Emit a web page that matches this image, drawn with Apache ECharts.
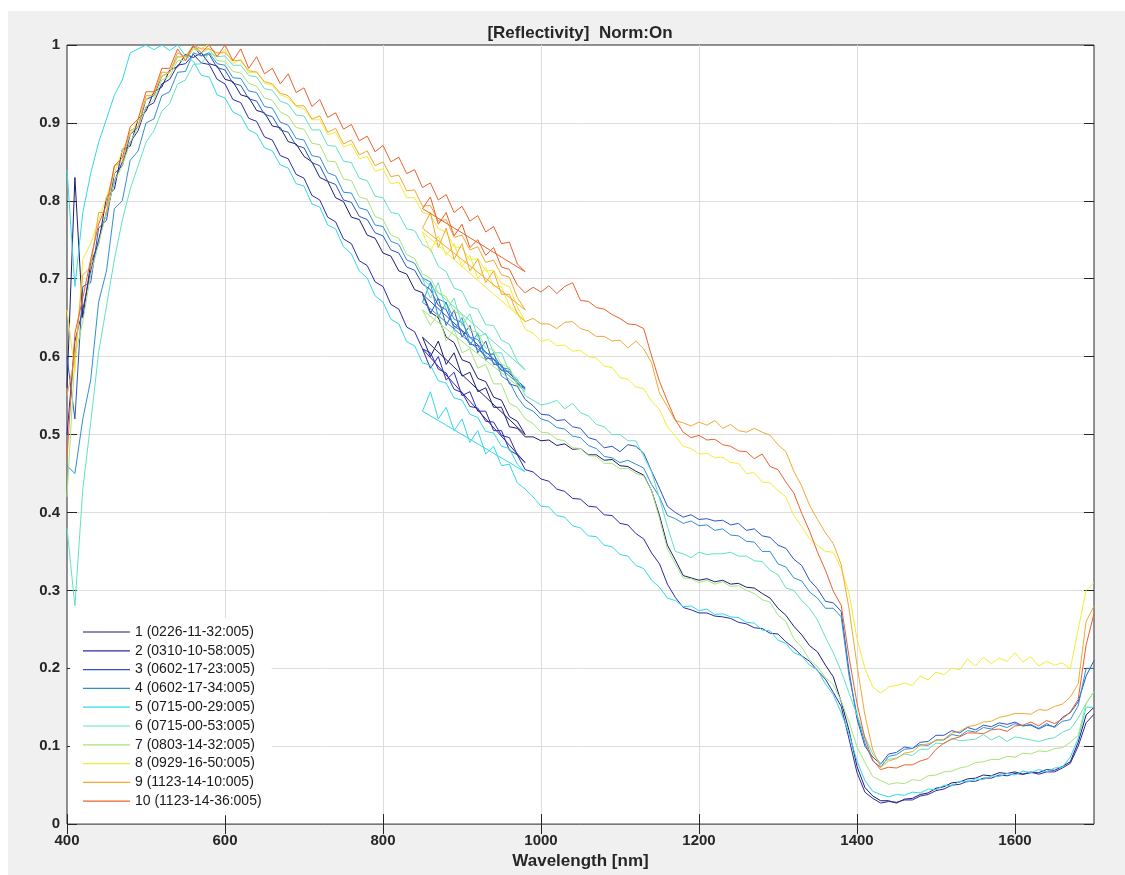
<!DOCTYPE html>
<html>
<head>
<meta charset="utf-8">
<title>[Reflectivity] Norm:On</title>
<script src="https://cdn.jsdelivr.net/npm/echarts@6/dist/echarts.min.js"></script>
<style>
html, body { margin: 0; padding: 0; background: #ffffff; }
#chart { position: absolute; left: 8px; top: 11px; width: 1117px; height: 864px; }
</style>
</head>
<body>
<div id="chart"></div>
<script>
// wavelength grids [nm] of the two spectrometers
var visWave = [400, 410, 420, 430, 440, 450, 460, 470, 480, 490,
    500, 510, 520, 530, 540, 550, 560, 570, 580, 590,
    600, 610, 620, 630, 640, 650, 660, 670, 680, 690,
    700, 710, 720, 730, 740, 750, 760, 770, 780, 790,
    800, 810, 820, 830, 840, 850, 860, 870, 880, 890,
    900, 910, 920, 930, 940, 950, 960, 970, 980];
var nirWave = [850, 860, 870, 880, 890, 900, 910, 920, 930, 940, 950, 960, 970, 980,
    990, 1000, 1010, 1020, 1030, 1040, 1050, 1060, 1070, 1080, 1090, 1100,
    1110, 1120, 1130, 1140, 1150, 1160, 1170, 1180, 1190, 1200,
    1210, 1220, 1230, 1240, 1250, 1260, 1270, 1280, 1290, 1300,
    1310, 1320, 1330, 1340, 1350, 1360, 1370, 1380, 1390, 1400,
    1410, 1420, 1430, 1440, 1450, 1460, 1470, 1480, 1490, 1500,
    1510, 1520, 1530, 1540, 1550, 1560, 1570, 1580, 1590, 1600,
    1610, 1620, 1630, 1640, 1650, 1660, 1670, 1680, 1690, 1700];

var runNames = ['1 (0226-11-32:005)', '2 (0310-10-58:005)', '3 (0602-17-23:005)',
    '4 (0602-17-34:005)', '5 (0715-00-29:005)', '6 (0715-00-53:005)',
    '7 (0803-14-32:005)', '8 (0929-16-50:005)', '9 (1123-14-10:005)',
    '10 (1123-14-36:005)'];
var runColors = ['#1c1c6e', '#2a2aa8', '#2a55c4', '#2f8fd4', '#30d8e8',
    '#62e2c2', '#a6e67a', '#f2ec34', '#f0a832', '#e8622c'];

// tick marks / labels
var xTickValues = [400, 600, 800, 1000, 1200, 1400, 1600];
var yTickValues = [0, 0.1, 0.2, 0.3, 0.4, 0.5, 0.6, 0.7, 0.8, 0.9, 1];

// normalised reflectivity, visible spectrometer
var vis01 = [0.56, 0.83, 0.65, 0.72, 0.745, 0.805, 0.815, 0.866, 0.87, 0.905,
    0.915, 0.94, 0.946, 0.968, 0.972, 0.988, 0.984, 0.99, 0.976, 0.973,
    0.956, 0.953, 0.936, 0.933, 0.916, 0.913, 0.896, 0.894, 0.876, 0.873,
    0.857, 0.85, 0.83, 0.825, 0.804, 0.799, 0.779, 0.776, 0.756, 0.752,
    0.733, 0.729, 0.71, 0.706, 0.686, 0.682, 0.657, 0.65, 0.625, 0.618,
    0.596, 0.592, 0.572, 0.568, 0.548, 0.544, 0.523, 0.517, 0.5];
var vis02 = [0.5, 0.62, 0.66, 0.71, 0.75, 0.785, 0.825, 0.85, 0.875, 0.89,
    0.92, 0.926, 0.95, 0.956, 0.974, 0.976, 0.988, 0.977, 0.975, 0.956,
    0.95, 0.93, 0.926, 0.906, 0.902, 0.882, 0.878, 0.858, 0.854, 0.834,
    0.829, 0.807, 0.801, 0.779, 0.773, 0.751, 0.745, 0.723, 0.717, 0.696,
    0.69, 0.667, 0.661, 0.638, 0.632, 0.61, 0.605, 0.584, 0.579, 0.558,
    0.554, 0.536, 0.534, 0.517, 0.516, 0.499, 0.496, 0.474, 0.464];
var vis03 = [0.6, 0.52, 0.69, 0.695, 0.765, 0.775, 0.835, 0.845, 0.885, 0.895,
    0.93, 0.935, 0.96, 0.965, 0.985, 0.985, 0.998, 0.986, 0.988, 0.971,
    0.968, 0.951, 0.948, 0.931, 0.928, 0.911, 0.908, 0.891, 0.888, 0.871,
    0.868, 0.849, 0.845, 0.825, 0.821, 0.801, 0.798, 0.78, 0.776, 0.759,
    0.755, 0.737, 0.733, 0.715, 0.711, 0.693, 0.686, 0.666, 0.66, 0.639,
    0.633, 0.616, 0.614, 0.598, 0.597, 0.582, 0.581, 0.565, 0.56];
var vis04 = [0.46, 0.45, 0.52, 0.57, 0.67, 0.71, 0.79, 0.8, 0.852, 0.864,
    0.9, 0.905, 0.935, 0.94, 0.965, 0.966, 0.99, 0.986, 0.99, 0.976,
    0.974, 0.958, 0.957, 0.941, 0.939, 0.921, 0.919, 0.901, 0.897, 0.88,
    0.878, 0.858, 0.856, 0.836, 0.832, 0.811, 0.81, 0.791, 0.788, 0.769,
    0.767, 0.748, 0.744, 0.724, 0.72, 0.701, 0.696, 0.674, 0.669, 0.648,
    0.644, 0.625, 0.622, 0.604, 0.603, 0.586, 0.584, 0.565, 0.558];
var vis05 = [0.84, 0.69, 0.785, 0.835, 0.875, 0.905, 0.936, 0.955, 0.99, 0.995,
    1.0, 0.994, 1.0, 0.993, 1.0, 0.986, 0.979, 0.961, 0.959, 0.936,
    0.932, 0.914, 0.909, 0.891, 0.886, 0.868, 0.864, 0.846, 0.842, 0.822,
    0.819, 0.796, 0.792, 0.769, 0.764, 0.741, 0.732, 0.71, 0.701, 0.678,
    0.67, 0.648, 0.642, 0.619, 0.614, 0.592, 0.589, 0.569, 0.566, 0.547,
    0.544, 0.526, 0.522, 0.504, 0.502, 0.485, 0.482, 0.462, 0.452];
var vis06 = [0.38, 0.28, 0.43, 0.515, 0.605, 0.665, 0.725, 0.775, 0.815, 0.845,
    0.875, 0.89, 0.915, 0.925, 0.95, 0.955, 0.975, 0.976, 0.99, 0.985,
    0.986, 0.974, 0.974, 0.961, 0.959, 0.944, 0.942, 0.928, 0.924, 0.91,
    0.909, 0.891, 0.891, 0.871, 0.87, 0.851, 0.849, 0.829, 0.826, 0.806,
    0.804, 0.785, 0.783, 0.764, 0.762, 0.744, 0.738, 0.716, 0.709, 0.688,
    0.684, 0.664, 0.661, 0.641, 0.64, 0.621, 0.616, 0.594, 0.583];
var vis07 = [0.42, 0.6, 0.645, 0.705, 0.745, 0.785, 0.825, 0.845, 0.875, 0.895,
    0.92, 0.93, 0.955, 0.96, 0.98, 0.98, 0.995, 0.99, 0.995, 0.98,
    0.979, 0.966, 0.964, 0.951, 0.947, 0.932, 0.929, 0.914, 0.909, 0.894,
    0.892, 0.874, 0.872, 0.851, 0.85, 0.828, 0.826, 0.805, 0.802, 0.78,
    0.776, 0.756, 0.752, 0.731, 0.726, 0.706, 0.701, 0.682, 0.677, 0.658,
    0.654, 0.634, 0.631, 0.611, 0.609, 0.59, 0.586, 0.564, 0.555];
var vis08 = [0.66, 0.58, 0.725, 0.745, 0.775, 0.805, 0.835, 0.865, 0.885, 0.905,
    0.93, 0.94, 0.96, 0.965, 0.985, 0.985, 0.995, 0.996, 1.0, 0.986,
    0.994, 0.976, 0.982, 0.964, 0.966, 0.951, 0.948, 0.936, 0.932, 0.921,
    0.918, 0.904, 0.904, 0.885, 0.888, 0.869, 0.873, 0.854, 0.857, 0.838,
    0.841, 0.822, 0.824, 0.804, 0.804, 0.785, 0.782, 0.764, 0.76, 0.741,
    0.74, 0.724, 0.726, 0.71, 0.711, 0.694, 0.69, 0.664, 0.645];
var vis09 = [0.55, 0.6, 0.705, 0.715, 0.785, 0.785, 0.845, 0.85, 0.89, 0.895,
    0.935, 0.935, 0.965, 0.965, 0.99, 0.985, 1.0, 0.995, 0.995, 0.99,
    0.99, 0.98, 0.98, 0.967, 0.965, 0.953, 0.95, 0.938, 0.935, 0.922,
    0.922, 0.905, 0.909, 0.888, 0.893, 0.873, 0.878, 0.859, 0.864, 0.845,
    0.85, 0.831, 0.833, 0.813, 0.814, 0.793, 0.794, 0.774, 0.776, 0.753,
    0.756, 0.737, 0.741, 0.721, 0.724, 0.705, 0.702, 0.676, 0.66];
var vis10 = [0.47, 0.63, 0.675, 0.725, 0.77, 0.795, 0.845, 0.855, 0.895, 0.905,
    0.94, 0.94, 0.97, 0.97, 0.995, 0.98, 1.0, 0.99, 1.0, 0.985,
    1.0, 0.98, 0.995, 0.97, 0.985, 0.963, 0.97, 0.95, 0.963, 0.939,
    0.945, 0.921, 0.93, 0.907, 0.913, 0.892, 0.898, 0.877, 0.883, 0.863,
    0.871, 0.85, 0.856, 0.835, 0.84, 0.817, 0.823, 0.801, 0.808, 0.785,
    0.793, 0.774, 0.781, 0.76, 0.767, 0.745, 0.747, 0.719, 0.709];

// normalised reflectivity, NIR spectrometer
var nir01 = [0.625, 0.6, 0.62, 0.59, 0.605, 0.575, 0.58, 0.555, 0.56, 0.535, 0.535, 0.51, 0.508, 0.497,
    0.497, 0.492, 0.493, 0.486, 0.488, 0.481, 0.482, 0.474, 0.474, 0.467, 0.468, 0.46,
    0.459, 0.453, 0.448, 0.428, 0.396, 0.358, 0.339, 0.319, 0.316, 0.313,
    0.315, 0.311, 0.313, 0.308, 0.309, 0.304, 0.303, 0.296, 0.29, 0.277,
    0.268, 0.254, 0.243, 0.229, 0.221, 0.204, 0.189, 0.157, 0.12, 0.074,
    0.047, 0.036, 0.03, 0.03, 0.027, 0.032, 0.033, 0.038, 0.04, 0.046,
    0.048, 0.053, 0.054, 0.058, 0.059, 0.063, 0.062, 0.066, 0.065, 0.067,
    0.064, 0.066, 0.066, 0.07, 0.069, 0.074, 0.08, 0.105, 0.14, 0.15];
var nir02 = [0.61, 0.585, 0.6, 0.57, 0.58, 0.55, 0.555, 0.53, 0.53, 0.505, 0.505, 0.48, 0.474, 0.455,
    0.452, 0.443, 0.44, 0.43, 0.427, 0.418, 0.417, 0.408, 0.407, 0.397, 0.396, 0.386,
    0.384, 0.373, 0.366, 0.348, 0.334, 0.308, 0.291, 0.278, 0.275, 0.271,
    0.271, 0.267, 0.266, 0.264, 0.259, 0.257, 0.252, 0.251, 0.245, 0.244,
    0.234, 0.226, 0.216, 0.209, 0.197, 0.186, 0.169, 0.151, 0.109, 0.066,
    0.041, 0.033, 0.027, 0.029, 0.028, 0.031, 0.031, 0.036, 0.038, 0.043,
    0.045, 0.05, 0.051, 0.055, 0.055, 0.059, 0.059, 0.063, 0.062, 0.065,
    0.064, 0.067, 0.064, 0.067, 0.067, 0.072, 0.078, 0.1, 0.13, 0.141];
var nir03 = [0.68, 0.655, 0.675, 0.64, 0.66, 0.625, 0.64, 0.605, 0.62, 0.59, 0.59, 0.565, 0.562, 0.545,
    0.537, 0.526, 0.525, 0.518, 0.519, 0.51, 0.508, 0.496, 0.493, 0.483, 0.485, 0.478,
    0.487, 0.485, 0.476, 0.453, 0.431, 0.408, 0.4, 0.394, 0.397, 0.391,
    0.392, 0.389, 0.39, 0.384, 0.386, 0.377, 0.379, 0.37, 0.368, 0.358,
    0.354, 0.34, 0.332, 0.313, 0.302, 0.286, 0.284, 0.273, 0.196, 0.135,
    0.1, 0.086, 0.077, 0.09, 0.092, 0.099, 0.097, 0.105, 0.106, 0.114,
    0.114, 0.12, 0.117, 0.124, 0.121, 0.127, 0.125, 0.13, 0.128, 0.131,
    0.126, 0.127, 0.122, 0.127, 0.125, 0.137, 0.143, 0.157, 0.19, 0.21];
var nir04 = [0.67, 0.695, 0.65, 0.67, 0.635, 0.65, 0.615, 0.63, 0.595, 0.605, 0.575, 0.568, 0.548, 0.535,
    0.53, 0.52, 0.517, 0.509, 0.507, 0.498, 0.496, 0.486, 0.482, 0.472, 0.47, 0.464,
    0.467, 0.462, 0.457, 0.436, 0.42, 0.396, 0.392, 0.386, 0.389, 0.383,
    0.384, 0.377, 0.379, 0.371, 0.37, 0.363, 0.362, 0.35, 0.35, 0.334,
    0.33, 0.316, 0.312, 0.298, 0.29, 0.277, 0.277, 0.266, 0.19, 0.14,
    0.104, 0.081, 0.073, 0.087, 0.089, 0.096, 0.097, 0.102, 0.101, 0.108,
    0.108, 0.115, 0.113, 0.12, 0.118, 0.124, 0.122, 0.127, 0.124, 0.129,
    0.126, 0.128, 0.123, 0.129, 0.124, 0.132, 0.134, 0.152, 0.2, 0.2];
var nir05 = [0.53, 0.555, 0.52, 0.535, 0.505, 0.52, 0.49, 0.505, 0.475, 0.485, 0.46, 0.462, 0.438, 0.43,
    0.42, 0.408, 0.407, 0.396, 0.394, 0.383, 0.38, 0.37, 0.369, 0.358, 0.356, 0.346,
    0.344, 0.332, 0.328, 0.313, 0.304, 0.29, 0.287, 0.279, 0.28, 0.274,
    0.276, 0.269, 0.27, 0.266, 0.265, 0.259, 0.258, 0.249, 0.248, 0.236,
    0.232, 0.22, 0.216, 0.204, 0.198, 0.18, 0.166, 0.143, 0.116, 0.081,
    0.056, 0.042, 0.038, 0.035, 0.038, 0.037, 0.041, 0.04, 0.045, 0.044,
    0.05, 0.049, 0.055, 0.054, 0.058, 0.057, 0.062, 0.061, 0.065, 0.063,
    0.068, 0.066, 0.07, 0.067, 0.072, 0.073, 0.086, 0.11, 0.15, 0.15];
var nir06 = [0.7, 0.675, 0.695, 0.66, 0.675, 0.64, 0.655, 0.625, 0.63, 0.605, 0.605, 0.58, 0.572, 0.55,
    0.544, 0.538, 0.54, 0.544, 0.533, 0.54, 0.528, 0.524, 0.513, 0.51, 0.5, 0.5,
    0.492, 0.492, 0.472, 0.452, 0.418, 0.382, 0.35, 0.347, 0.342, 0.349,
    0.346, 0.347, 0.347, 0.349, 0.344, 0.344, 0.338, 0.337, 0.326, 0.32,
    0.303, 0.3, 0.287, 0.277, 0.262, 0.24, 0.22, 0.196, 0.168, 0.14,
    0.112, 0.09, 0.078, 0.083, 0.085, 0.09, 0.088, 0.096, 0.096, 0.104,
    0.103, 0.11, 0.107, 0.108, 0.109, 0.115, 0.108, 0.113, 0.106, 0.112,
    0.11, 0.108, 0.106, 0.109, 0.111, 0.118, 0.122, 0.136, 0.155, 0.17];
var nir07 = [0.66, 0.64, 0.655, 0.62, 0.635, 0.605, 0.61, 0.585, 0.59, 0.565, 0.565, 0.54, 0.535, 0.52,
    0.514, 0.503, 0.502, 0.494, 0.492, 0.483, 0.482, 0.473, 0.472, 0.463, 0.463, 0.456,
    0.457, 0.45, 0.447, 0.428, 0.392, 0.353, 0.334, 0.316, 0.315, 0.31,
    0.313, 0.308, 0.311, 0.305, 0.306, 0.3, 0.296, 0.288, 0.285, 0.268,
    0.26, 0.238, 0.227, 0.211, 0.202, 0.188, 0.179, 0.158, 0.131, 0.099,
    0.079, 0.061, 0.056, 0.051, 0.053, 0.052, 0.057, 0.056, 0.062, 0.063,
    0.067, 0.068, 0.072, 0.074, 0.079, 0.08, 0.083, 0.083, 0.087, 0.086,
    0.091, 0.09, 0.094, 0.093, 0.097, 0.098, 0.105, 0.114, 0.155, 0.17];
var nir08 = [0.76, 0.735, 0.755, 0.73, 0.745, 0.715, 0.73, 0.7, 0.715, 0.69, 0.69, 0.665, 0.657, 0.635,
    0.63, 0.62, 0.622, 0.614, 0.615, 0.607, 0.608, 0.6, 0.598, 0.588, 0.586, 0.573,
    0.571, 0.561, 0.559, 0.543, 0.532, 0.51, 0.498, 0.485, 0.482, 0.475,
    0.476, 0.47, 0.471, 0.464, 0.463, 0.45, 0.451, 0.439, 0.438, 0.428,
    0.42, 0.396, 0.382, 0.366, 0.358, 0.35, 0.349, 0.328, 0.296, 0.238,
    0.2, 0.176, 0.168, 0.176, 0.178, 0.181, 0.178, 0.19, 0.185, 0.195,
    0.192, 0.2, 0.198, 0.212, 0.203, 0.214, 0.206, 0.213, 0.209, 0.22,
    0.208, 0.215, 0.203, 0.209, 0.204, 0.207, 0.199, 0.25, 0.3, 0.31];
var nir09 = [0.765, 0.785, 0.74, 0.765, 0.725, 0.745, 0.71, 0.725, 0.695, 0.71, 0.68, 0.68, 0.655, 0.645,
    0.649, 0.642, 0.642, 0.636, 0.644, 0.645, 0.636, 0.633, 0.626, 0.626, 0.62, 0.621,
    0.611, 0.62, 0.61, 0.592, 0.553, 0.536, 0.518, 0.515, 0.511, 0.516,
    0.512, 0.518, 0.508, 0.513, 0.505, 0.503, 0.508, 0.503, 0.499, 0.487,
    0.478, 0.453, 0.434, 0.409, 0.391, 0.374, 0.36, 0.333, 0.276, 0.204,
    0.14, 0.095, 0.073, 0.081, 0.084, 0.091, 0.093, 0.101, 0.103, 0.107,
    0.109, 0.117, 0.119, 0.125, 0.127, 0.131, 0.132, 0.137, 0.139, 0.142,
    0.142, 0.141, 0.147, 0.146, 0.151, 0.154, 0.163, 0.18, 0.26, 0.28];
var nir10 = [0.79, 0.805, 0.77, 0.785, 0.755, 0.77, 0.74, 0.75, 0.73, 0.74, 0.715, 0.712, 0.692, 0.682,
    0.689, 0.683, 0.691, 0.681, 0.69, 0.695, 0.672, 0.671, 0.663, 0.661, 0.654, 0.649,
    0.642, 0.641, 0.636, 0.601, 0.568, 0.543, 0.519, 0.503, 0.496, 0.499,
    0.493, 0.494, 0.487, 0.485, 0.479, 0.478, 0.469, 0.475, 0.459, 0.455,
    0.439, 0.425, 0.399, 0.376, 0.349, 0.326, 0.299, 0.281, 0.214, 0.155,
    0.11, 0.082, 0.07, 0.073, 0.072, 0.076, 0.076, 0.081, 0.084, 0.096,
    0.104, 0.109, 0.112, 0.117, 0.117, 0.116, 0.121, 0.122, 0.119, 0.126,
    0.127, 0.131, 0.126, 0.133, 0.129, 0.135, 0.144, 0.16, 0.23, 0.27];

var visRuns = [vis01, vis02, vis03, vis04, vis05, vis06, vis07, vis08, vis09, vis10];
var nirRuns = [nir01, nir02, nir03, nir04, nir05, nir06, nir07, nir08, nir09, nir10];

var FONT = '"Liberation Sans", Arial, Helvetica, sans-serif';
var INK = '#262626';
// thin horizontal bar in a 47x14 box, used as legend sample line
var LEGEND_LINE = 'path://M0,0 M0,6.4 L47,6.4 L47,7.6 L0,7.6 Z M47,14';

// one polyline per run: visible part first, then the NIR part
function spectrum(vis, nir) {
    var pts = [];
    for (var i = 0; i < visWave.length; i++)
        pts.push([visWave[i], vis[i]]);
    for (var j = 0; j < nirWave.length; j++)
        pts.push([nirWave[j], nir[j]]);
    return pts;
}

function tickStyle(values) {
    return { show: true, inside: true, length: 10, customValues: values,
             lineStyle: { color: INK, width: 1 } };
}

// mirrored box axis (top / right): only inward ticks
function frameAxis(pos, values) {
    return {
        type: 'value',
        position: pos,
        min: values[0],
        max: pos == 'top' ? 1700 : 1,
        axisLine: { show: false },
        axisTick: tickStyle(values),
        axisLabel: { show: false },
        splitLine: { show: false }
    };
}

var chart = echarts.init(document.getElementById('chart'));

var series = [];
for (var k = 0; k < runNames.length; k++) {
    series.push({
        name: runNames[k],
        type: 'line',
        data: spectrum(visRuns[k], nirRuns[k]),
        symbol: 'none',
        showSymbol: false,
        clip: true,
        color: runColors[k],
        lineStyle: { width: 1, color: runColors[k] },
        emphasis: { disabled: true }
    });
}

chart.setOption({
    animation: false,
    backgroundColor: '#f0f0f0',
    title: {
        text: '[Reflectivity]  Norm:On',
        left: 572,
        top: 14,
        padding: 0,
        textAlign: 'center',
        textStyle: { fontFamily: FONT, fontSize: 17, fontWeight: 'bold', color: INK }
    },
    grid: {
        left: 59, top: 34, right: 31, bottom: 50,
        show: true,
        backgroundColor: '#ffffff',
        borderColor: INK,
        borderWidth: 1
    },
    legend: {
        orient: 'vertical',
        left: 62,
        top: 607,
        padding: [7, 10, 7, 13],
        icon: LEGEND_LINE,
        itemWidth: 47,
        itemHeight: 14,
        itemGap: 4.8,
        backgroundColor: '#ffffff',
        borderWidth: 0,
        selectedMode: false,
        textStyle: { fontFamily: FONT, fontSize: 14, color: '#1a1a1a' },
        data: runNames
    },
    xAxis: [{
        type: 'value',
        position: 'bottom',
        min: 400,
        max: 1700,
        interval: 200,
        name: 'Wavelength [nm]',
        nameLocation: 'middle',
        nameGap: 24,
        nameTextStyle: { fontFamily: FONT, fontSize: 17, fontWeight: 'bold', color: INK },
        axisLine: { show: false, onZero: false },
        axisTick: tickStyle(xTickValues),
        axisLabel: {
            show: true, margin: 9, customValues: xTickValues,
            formatter: function (v) { return String(v); },
            fontFamily: FONT, fontSize: 15, fontWeight: 'bold', color: INK
        },
        splitLine: { show: true, showMinLine: false, showMaxLine: false,
                     lineStyle: { color: '#dedede', width: 1 } }
    }, frameAxis('top', xTickValues)],
    yAxis: [{
        type: 'value',
        position: 'left',
        min: 0,
        max: 1,
        interval: 0.1,
        axisLine: { show: false, onZero: false },
        axisTick: tickStyle(yTickValues),
        axisLabel: {
            show: true, margin: 7, customValues: yTickValues,
            formatter: function (v) { return String(v); },
            fontFamily: FONT, fontSize: 15, fontWeight: 'bold', color: INK
        },
        splitLine: { show: true, showMinLine: false, showMaxLine: false,
                     lineStyle: { color: '#dedede', width: 1 } }
    }, frameAxis('right', yTickValues)],
    series: series
});
</script>
</body>
</html>
